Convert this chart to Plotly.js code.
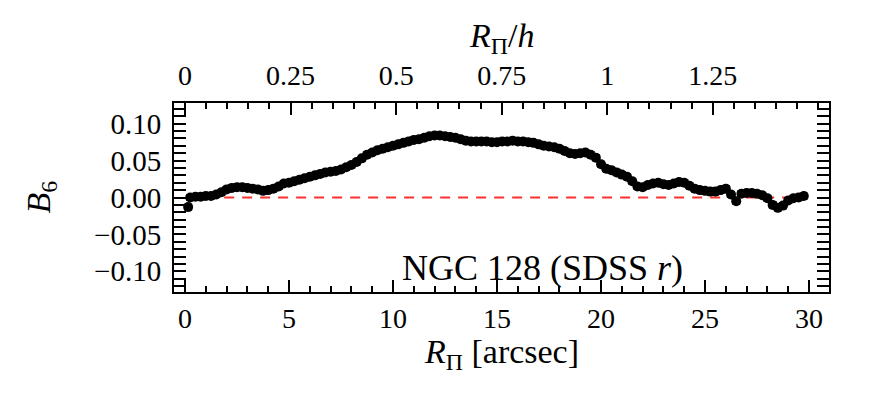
<!DOCTYPE html>
<html>
<head>
<meta charset="utf-8">
<script src="https://cdn.plot.ly/plotly-3.0.1.min.js"></script>
<style>
  body { margin: 0; background: #fff; }
  #chart { width: 872px; height: 396px; }
</style>
</head>
<body>
<div id="chart"></div>
<script>
// B6 profile of NGC 128
var radius = [0.15, 0.25, 0.5, 0.75, 1.0, 1.25, 1.5, 1.75, 2.0, 2.25, 2.5, 2.75, 3.0, 3.25, 3.5, 3.75,
  4.0, 4.25, 4.5, 4.75, 5.0, 5.25, 5.5, 5.75, 6.0, 6.25, 6.5, 6.75, 7.0, 7.25, 7.5, 7.75,
  8.0, 8.25, 8.5, 8.75, 9.0, 9.25, 9.5, 9.75, 10.0, 10.25, 10.5, 10.75, 11.0, 11.25, 11.5, 11.75,
  12.0, 12.25, 12.5, 12.75, 13.0, 13.25, 13.5, 13.75, 14.0, 14.25, 14.5, 14.75, 15.0, 15.25, 15.5, 15.75,
  16.0, 16.25, 16.5, 16.75, 17.0, 17.25, 17.5, 17.75, 18.0, 18.25, 18.5, 18.75, 19.0, 19.25, 19.5, 19.75,
  20.0, 20.25, 20.5, 20.75, 21.0, 21.25, 21.5, 21.75, 22.0, 22.25, 22.5, 22.75, 23.0, 23.25, 23.5, 23.75,
  24.0, 24.25, 24.5, 24.75, 25.0, 25.25, 25.5, 25.75, 26.0, 26.25, 26.5, 26.75, 27.0, 27.25, 27.5, 27.75,
  28.0, 28.25, 28.5, 28.75, 29.0, 29.25, 29.5, 29.75];
var b6 = [-0.013, 0.000, 0.001, 0.001, 0.002, 0.002, 0.004, 0.007, 0.011, 0.013, 0.014, 0.014, 0.013, 0.012, 0.011, 0.009,
  0.010, 0.012, 0.015, 0.019, 0.020, 0.022, 0.024, 0.026, 0.028, 0.030, 0.032, 0.034, 0.035, 0.036, 0.038, 0.041,
  0.044, 0.048, 0.053, 0.058, 0.061, 0.064, 0.066, 0.068, 0.070, 0.072, 0.074, 0.076, 0.078, 0.079, 0.081, 0.083,
  0.084, 0.084, 0.083, 0.082, 0.081, 0.079, 0.077, 0.076, 0.076, 0.076, 0.076, 0.075, 0.075, 0.076, 0.076, 0.077,
  0.076, 0.076, 0.075, 0.074, 0.072, 0.070, 0.069, 0.068, 0.066, 0.063, 0.060, 0.059, 0.060, 0.061, 0.058, 0.054,
  0.045, 0.039, 0.037, 0.034, 0.031, 0.028, 0.022, 0.015, 0.014, 0.017, 0.019, 0.020, 0.018, 0.017, 0.019, 0.021,
  0.020, 0.016, 0.012, 0.010, 0.009, 0.008, 0.008, 0.010, 0.012, 0.004, -0.005, 0.005, 0.006, 0.006, 0.005, 0.003,
  -0.001, -0.010, -0.014, -0.011, -0.004, -0.001, 0.000, 0.002];
var b6Error = 0.004;

var bottomTicks = [0, 5, 10, 15, 20, 25, 30];
var topTicks = [0, 0.25, 0.5, 0.75, 1, 1.25];
var topTickText = ['0', '0.25', '0.5', '0.75', '1', '1.25'];
var yTicks = [-0.10, -0.05, 0.00, 0.05, 0.10];

var scaleLength = 20.3;   // h in arcsec
var xRange = [-0.53, 30.96];

var font = 'Liberation Serif, Times New Roman, serif';

var zeroLine = {
    x: [radius[0], radius[radius.length - 1]],
    y: [0, 0],
    mode: 'lines',
    type: 'scatter',
    line: { color: '#ff3030', width: 2, dash: '10px,8px' },
    hoverinfo: 'skip'
};

var profile = {
    x: radius,
    y: b6,
    mode: 'markers',
    type: 'scatter',
    marker: { color: 'black', size: 10 },
    error_y: { type: 'constant', value: b6Error, color: 'black', thickness: 1, width: 4 }
};

var topAxisHelper = {
    x: [xRange[0] / scaleLength, xRange[1] / scaleLength],
    y: [0, 0],
    xaxis: 'x2',
    mode: 'markers',
    marker: { opacity: 0 },
    hoverinfo: 'skip'
};

var tickStyle = { ticks: 'inside', ticklen: 12, tickwidth: 2, tickcolor: 'black' };
var minorStyle = { ticks: 'inside', ticklen: 6, tickwidth: 2, tickcolor: 'black' };

var layout = {
    width: 872,
    height: 396,
    margin: { l: 174, r: 43, t: 103, b: 104 },
    showlegend: false,
    paper_bgcolor: 'white',
    plot_bgcolor: 'white',
    font: { family: font, size: 29, color: 'black' },
    xaxis: Object.assign({
        range: xRange,
        tickvals: bottomTicks,
        tickfont: { size: 28 },
        ticklabelstandoff: 0,
        showline: true, linewidth: 2, linecolor: 'black',
        showgrid: false, zeroline: false,
        minor: Object.assign({ dtick: 1 }, minorStyle)
    }, tickStyle),
    xaxis2: Object.assign({
        overlaying: 'x',
        side: 'top',
        range: [xRange[0] / scaleLength, xRange[1] / scaleLength],
        tickvals: topTicks,
        ticktext: topTickText,
        tickfont: { size: 28 },
        ticklabelstandoff: 5,
        showline: true, linewidth: 2, linecolor: 'black',
        showgrid: false, zeroline: false,
        minor: Object.assign({ dtick: 0.05 }, minorStyle)
    }, tickStyle),
    yaxis: Object.assign({
        range: [-0.128, 0.128],
        tickvals: yTicks,
        tickformat: '.2f',
        ticklabelstandoff: 5,
        showline: true, linewidth: 2, linecolor: 'black',
        mirror: 'allticks',
        showgrid: false, zeroline: false,
        minor: Object.assign({ dtick: 0.01 }, minorStyle)
    }, tickStyle),
    annotations: [
        {   // bottom axis title
            xref: 'paper', yref: 'paper', x: 0.5, y: 0,
            yanchor: 'middle', yshift: -62,
            text: '<i>R</i><sub>Π</sub> [arcsec]',
            showarrow: false, font: { size: 34 }
        },
        {   // top axis title
            xref: 'paper', yref: 'paper', x: 0.5, y: 1,
            yanchor: 'middle', yshift: 65,
            text: '<i>R</i><sub>Π</sub>/<i>h</i>',
            showarrow: false, font: { size: 34 }
        },
        {   // y axis title
            xref: 'paper', yref: 'paper', x: 0, y: 0.5,
            xanchor: 'center', xshift: -134, textangle: -90,
            text: '<i>B</i><sub>6</sub>',
            showarrow: false, font: { size: 34 }
        },
        {
            xref: 'x', yref: 'y',
            x: 17.2, y: -0.095,
            text: 'NGC 128 (SDSS <i>r</i>)',
            showarrow: false,
            font: { size: 36 }
        }
    ]
};

Plotly.newPlot('chart', [zeroLine, profile, topAxisHelper], layout, { displayModeBar: false, staticPlot: true });
</script>
</body>
</html>
